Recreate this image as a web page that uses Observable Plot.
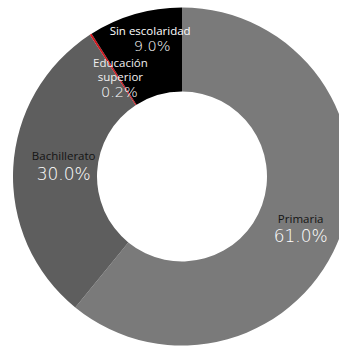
<!DOCTYPE html>
<html><head><meta charset="utf-8">
<script src="https://cdn.jsdelivr.net/npm/d3@7"></script>
<script src="https://cdn.jsdelivr.net/npm/@observablehq/plot@0.6"></script>
<style>html,body{margin:0;padding:0;background:#fff} svg{display:block}</style>
</head><body><div id="chart"></div>
<script>
// ---- data ----
const categories = ["Primaria", "Bachillerato", "Educación superior", "Sin escolaridad"];
const nameLines = ["Primaria", "Bachillerato", "Educación\nsuperior", "Sin escolaridad"];
const values = [61.0, 30.0, 0.2, 9.0];
const valueLabels = ["61.0%", "30.0%", "0.2%", "9.0%"];
const colors = ["#7a7a7a", "#5e5e5e", "#d0141c", "#000000"];
const nameColors = ["#141414", "#141414", "#f0f0f0", "#ffffff"];

// ---- layout (pixels) ----
const W = 339, H = 348;
const cx = 182, cy = 176.5, R = 169, Rin = 85;
const innerRatio = Rin / R;
// label nudges from arc centroid, px: [nameDx, nameDy, pctDx, pctDy]
const nudge = {
  "Primaria": [-1.5, -0.5, -1.5, 17],
  "Bachillerato": [8, -14.5, 8, 4],
  "Educación superior": [6.5, -0.5, 5.5, 22],
  "Sin escolaridad": [3, -24, 5, -8.5]
};
const pctSize = {"Primaria": 17, "Bachillerato": 17, "Educación superior": 15, "Sin escolaridad": 15};

const data = categories.map((c, i) => ({category: c, value: values[i], pct: valueLabels[i], name: nameLines[i], color: colors[i], nameColor: nameColors[i]}));
const arcs = d3.pie().sort(null).value(d => d.value)(data);
const cArc = d3.arc().innerRadius(innerRatio).outerRadius(1);
const labels = arcs.map(a => {
  const [ux, uy] = cArc.centroid(a);
  const n = nudge[a.data.category];
  return {
    ...a.data,
    nx: ux + n[0] / R, ny: -(uy + n[1] / R),
    px: ux + n[2] / R, py: -(uy + n[3] / R),
    size: pctSize[a.data.category]
  };
});

function donut(index, scales) {
  const x = scales.x, y = scales.y;
  const r = x(1) - x(0);
  const arc = d3.arc().innerRadius(r * innerRatio).outerRadius(r);
  const g = d3.create("svg:g").attr("transform", `translate(${x(0)},${y(0)})`);
  g.selectAll("path").data(arcs).join("path").attr("d", arc).attr("fill", d => d.data.color);
  return g.node();
}

const big = labels.filter(d => d.size === 17);
const small = labels.filter(d => d.size !== 17);

const chart = Plot.plot({
  width: W, height: H,
  margin: 0,
  style: {background: "#fff", fontFamily: "'Open Sans', sans-serif"},
  x: {domain: [-cx / R, (W - cx) / R], axis: null},
  y: {domain: [-(H - cy) / R, cy / R], axis: null},
  marks: [
    donut,
    Plot.text(labels, {x: "nx", y: "ny", text: "name", fill: "nameColor", fontSize: 11.5, lineAnchor: "middle", lineHeight: 1.2, textAnchor: "middle"}),
    Plot.text(big, {x: "px", y: "py", text: "pct", fill: "#fff", fontSize: 17, fontWeight: 200, fontFamily: "'DejaVu Sans', sans-serif", lineAnchor: "middle", textAnchor: "middle"}),
    Plot.text(small, {x: "px", y: "py", text: "pct", fill: "#fff", fontSize: 14.5, fontWeight: 200, fontFamily: "'DejaVu Sans', sans-serif", lineAnchor: "middle", textAnchor: "middle"})
  ]
});
document.getElementById("chart").appendChild(chart);
</script>
</body></html>
